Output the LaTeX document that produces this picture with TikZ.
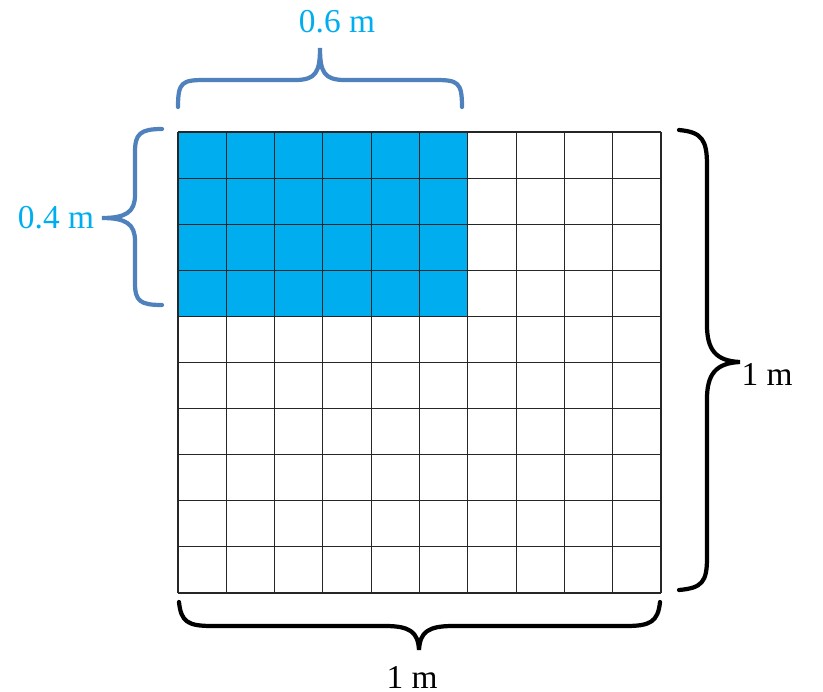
\documentclass[tikz,border=0pt]{standalone}
\usepackage{fontspec}
\setmainfont{Liberation Serif}
\definecolor{cellblue}{HTML}{00AEEF}
\definecolor{bracegray}{HTML}{4F81BD}

\begin{document}
\begin{tikzpicture}[x=0.02cm,y=-0.02cm]
\tikzset{gridline/.style = {draw=black!85, line width=0.6pt}}
\tikzset{bracepath/.style = {line width=2.4pt, line cap=round}}
\tikzset{dimlabel/.style = {font=\fontsize{19}{22}\selectfont, inner sep=0pt}}
\useasboundingbox (0,0) rectangle (823,691);

% shaded part: 6 columns by 4 rows
\fill[cellblue] (178,132) rectangle (467.8,316.4);

% the 10 x 10 grid
\foreach \i in {0,...,10} {
    \draw[gridline] (178+\i*48.3,132) -- (178+\i*48.3,593);
    \draw[gridline] (178,132+\i*46.1) -- (661,132+\i*46.1);
}

% top brace
\draw[bracepath, bracegray] (178,107) .. controls (178,82) and (182,80) .. (205,80)
    -- (295,80) .. controls (316,80) and (320,72) .. (320,48)
    .. controls (320,72) and (324,80) .. (345,80)
    -- (435,80) .. controls (458,80) and (462,82) .. (462,107);

% left brace
\draw[bracepath, bracegray] (162,129) .. controls (140,129) and (135,134) .. (135,152)
    -- (135,195) .. controls (135,212) and (126,218) .. (102,218)
    .. controls (126,218) and (135,224) .. (135,241)
    -- (135,283) .. controls (135,301) and (140,305) .. (162,305);

% right brace
\draw[bracepath, black] (679,130) .. controls (702,132) and (707,140) .. (707,165)
    -- (707,325) .. controls (707,350) and (716,361) .. (740,362)
    .. controls (716,363) and (707,374) .. (707,399)
    -- (707,558) .. controls (707,582) and (702,588) .. (679,590);

% bottom brace
\draw[bracepath, black] (179,602) .. controls (181,622) and (188,626) .. (212,626)
    -- (385,626) .. controls (410,626) and (418,632) .. (419,650)
    .. controls (420,632) and (428,626) .. (453,626)
    -- (626,626) .. controls (650,626) and (658,622) .. (660,602);

% labels
\node[dimlabel, text=cellblue] (top) at (337,22) {0.6 m};
\node[dimlabel, text=cellblue] (left) at (56,218) {0.4 m};
\node[dimlabel] (right) at (767,374) {1 m};
\node[dimlabel] (bottom) at (412,677) {1 m};
\end{tikzpicture}
\end{document}
